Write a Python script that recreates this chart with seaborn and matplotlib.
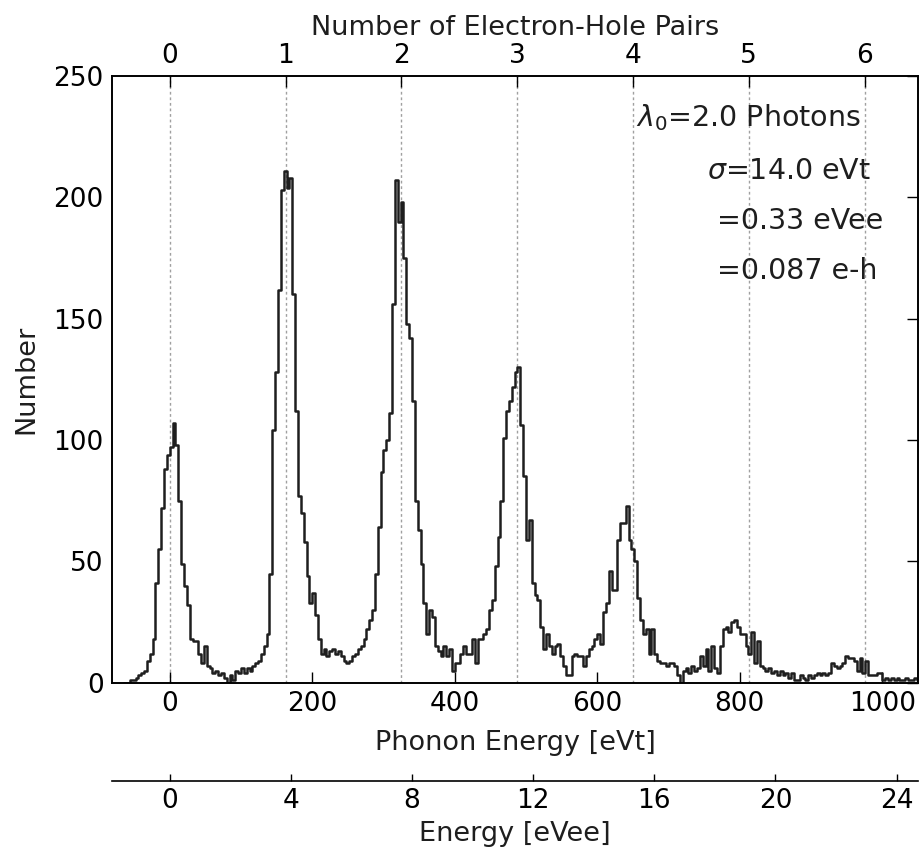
import numpy as np
import pandas as pd
import matplotlib
matplotlib.use("Agg")
import matplotlib.pyplot as plt
import seaborn as sns

# ---------------- data ----------------
bin_width = 4.0          # eVt
first_edge = -64.0       # eVt
counts = [
    # -64 .. -4
    0, 0, 1, 1, 2, 3, 4, 5, 9, 12, 18, 41, 55, 72, 88, 94,
    # 0 .. 96
    97, 107, 98, 75, 49, 40, 32, 18, 17, 17, 12, 8, 15, 7, 6, 4, 5, 3, 4, 2,
    0, 3, 1, 5, 4,
    # 100 .. 196
    6, 4, 6, 5, 7, 8, 9, 12, 15, 20, 45, 104, 128, 162, 203, 211, 204, 208,
    160, 112, 77, 70, 58, 44, 33,
    # 200 .. 296
    37, 28, 18, 12, 14, 11, 13, 14, 12, 13, 11, 9, 8, 9, 11, 12, 14, 15, 18,
    22, 26, 30, 45, 64, 87,
    # 300 .. 396
    96, 100, 111, 156, 207, 190, 198, 175, 148, 142, 116, 75, 63, 49, 33, 20,
    30, 27, 15, 13, 11, 15, 11, 14, 5,
    # 400 .. 496
    8, 8, 12, 15, 12, 12, 18, 8, 18, 18, 20, 22, 30, 34, 48, 60, 75, 101, 112,
    116, 122, 128, 130, 106, 85,
    # 500 .. 596
    59, 67, 41, 36, 34, 23, 14, 20, 15, 12, 15, 16, 11, 7, 3, 3, 11, 12, 11,
    11, 7, 11, 14, 15, 18,
    # 600 .. 696
    20, 16, 29, 33, 46, 38, 38, 59, 66, 66, 73, 59, 55, 50, 35, 26, 20, 22,
    12, 22, 12, 9, 8, 8, 7,
    # 700 .. 796
    8, 8, 7, 3, 0, 5, 6, 4, 7, 5, 6, 11, 7, 14, 5, 15, 6, 4, 15, 22, 23, 21,
    25, 26, 23,
    # 800 .. 896
    20, 20, 15, 12, 21, 8, 17, 7, 6, 5, 6, 4, 5, 3, 5, 3, 4, 2, 4, 1, 1, 3, 2,
    1, 3,
    # 900 .. 996
    2, 3, 4, 3, 4, 3, 4, 8, 7, 6, 7, 8, 11, 10, 10, 9, 5, 10, 4, 9, 3, 3, 3,
    4, 4,
    # 1000 .. 1048
    1, 2, 1, 2, 1, 2, 1, 1, 2, 1, 1, 2, 1,
]
eh_pairs = [0, 1, 2, 3, 4, 5, 6]
eVee_ticks = [0, 4, 8, 12, 16, 20, 24]
eVt_ticks = [0, 200, 400, 600, 800, 1000]
y_ticks = [0, 50, 100, 150, 200, 250]
eVt_per_pair = 162.5     # eVt per electron-hole pair
eVt_per_eVee = 42.5      # eVt per eVee
x_range = (-81.0, 1050.0)
info_lines = [r"$\lambda_0$=2.0 Photons", r"$\sigma$=14.0 eVt",
              "=0.33 eVee", "=0.087 e-h"]

n_bins = len(counts)
centers = first_edge + bin_width * (np.arange(n_bins) + 0.5)
df = pd.DataFrame({"energy": centers, "count": np.asarray(counts, float)})

# ---------------- style ----------------
sns.set_theme(style="white")
plt.rcParams["font.family"] = ["DejaVu Sans"]
plt.rcParams.update({
    "axes.edgecolor": "black",
    "axes.linewidth": 1.2,
    "xtick.color": "black",
    "ytick.color": "black",
    "text.color": "#1e1e1e",
    "axes.labelcolor": "#1e1e1e",
})
TICK_FS = 19
LABEL_FS = 19.5

fig = plt.figure(figsize=(9.21, 8.55), dpi=100)
ax = fig.add_axes([0.1216, 0.2015, 0.8751, 0.7096])

sns.histplot(data=df, x="energy", weights="count", binwidth=bin_width,
             binrange=(first_edge, first_edge + bin_width * n_bins),
             element="step", fill=False, color="#1e1e1e", linewidth=1.8,
             ax=ax)

for k in eh_pairs:
    ax.axvline(k * eVt_per_pair, color="#a0a0a0", linestyle=(0, (2, 2)),
               linewidth=1.0, zorder=0)

ax.set_xlim(*x_range)
ax.set_ylim(0, 250)
ax.set_xticks(eVt_ticks)
ax.set_yticks(y_ticks)
ax.tick_params(axis="both", direction="in", length=8, width=1,
               labelsize=TICK_FS, top=False, right=True, pad=6)
ax.set_xlabel("Phonon Energy [eVt]", fontsize=LABEL_FS, labelpad=9)
ax.set_ylabel("Number", fontsize=LABEL_FS, labelpad=10)

# top axis: electron-hole pairs
axt = ax.twiny()
axt.set_xlim(x_range[0] / eVt_per_pair, x_range[1] / eVt_per_pair)
axt.set_xticks(eh_pairs)
axt.tick_params(axis="x", direction="in", length=8, width=1,
                labelsize=TICK_FS, pad=5)
axt.set_xlabel("Number of Electron-Hole Pairs", fontsize=LABEL_FS, labelpad=6)

# third axis below: eVee
ax3 = ax.twiny()
ax3.set_xlim(x_range[0] / eVt_per_eVee, x_range[1] / eVt_per_eVee)
ax3.xaxis.set_ticks_position("bottom")
ax3.xaxis.set_label_position("bottom")
ax3.spines["bottom"].set_position(("axes", -0.162))
for s in ["top", "left", "right"]:
    ax3.spines[s].set_visible(False)
ax3.set_xticks(eVee_ticks)
ax3.tick_params(axis="x", direction="in", length=5, width=1,
                labelsize=TICK_FS, pad=5)
ax3.set_xlabel("Energy [eVee]", fontsize=LABEL_FS, labelpad=5)

# annotation block
pos = [(0.650, 0.9165), (0.738, 0.830), (0.751, 0.7478), (0.751, 0.6650)]
for (px, py), txt in zip(pos, info_lines):
    ax.text(px, py, txt, transform=ax.transAxes, fontsize=20.5,
            ha="left", va="baseline", color="#1e1e1e")

fig.savefig("out.png", dpi=100)
